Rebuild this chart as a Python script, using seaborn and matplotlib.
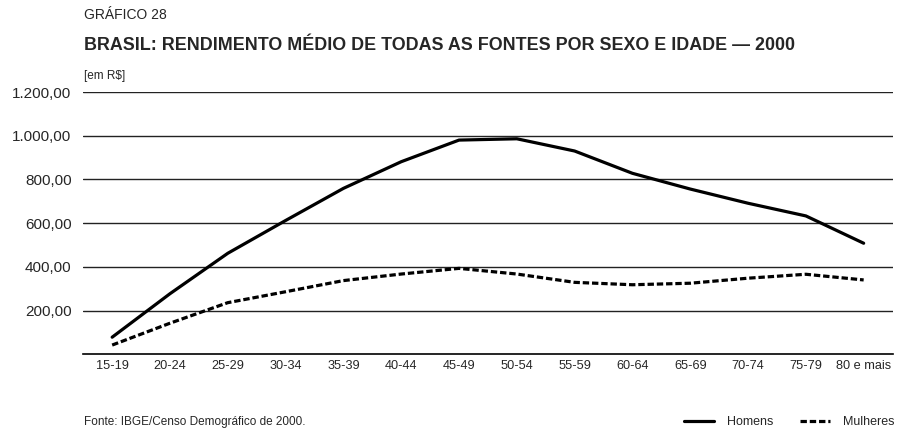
import pandas as pd
import matplotlib.pyplot as plt
import seaborn as sns

# Dados: rendimento médio (R$) por faixa etária e sexo — Censo 2000
faixas = ["15-19", "20-24", "25-29", "30-34", "35-39", "40-44", "45-49",
          "50-54", "55-59", "60-64", "65-69", "70-74", "75-79", "80 e mais"]
homens = [78, 277, 462, 612, 759, 881, 980, 986, 930, 828, 756, 691, 633, 508]
mulheres = [42, 142, 236, 286, 337, 367, 393, 367, 329, 318, 325, 348, 366, 340]
y_ticks = [200, 400, 600, 800, 1000, 1200]

sns.set_style("white")
plt.rcParams["font.family"] = ["Liberation Sans Narrow", "Liberation Sans", "DejaVu Sans"]

df = pd.DataFrame({
    "faixa": faixas * 2,
    "valor": homens + mulheres,
    "sexo": ["Homens"] * len(faixas) + ["Mulheres"] * len(faixas),
})

fig = plt.figure(figsize=(9.08, 4.32), dpi=100)
ax = fig.add_axes([0.0917, 0.180, 0.8913, 0.607])

sns.lineplot(data=df, x="faixa", y="valor", hue="sexo", style="sexo",
             palette={"Homens": "black", "Mulheres": "black"},
             dashes={"Homens": "", "Mulheres": (2.0, 0.9)},
             linewidth=2.3, sort=False, legend=False, ax=ax)

# Eixo Y: grade horizontal, rótulos em formato brasileiro
ax.set_ylim(0, 1200)
ax.set_yticks(y_ticks)
ax.set_yticklabels([f"{v:,.2f}".replace(",", "X").replace(".", ",").replace("X", ".")
                    for v in y_ticks], family="Liberation Sans", fontsize=11)
ax.yaxis.grid(True, color="#222222", linewidth=1.0)
ax.tick_params(axis="y", length=0, pad=8.4)

# Eixo X: traços nos limites das categorias, rótulos centrados
n = len(faixas)
ax.set_xlim(-0.5, n - 0.5)
ax.set_xticks([i - 0.5 for i in range(n + 1)])
ax.set_xticklabels([])
ax.set_xticks(range(n), minor=True)
ax.set_xticklabels(faixas, minor=True, fontsize=9.2)
ax.tick_params(axis="x", which="major", direction="in", length=7.2, width=1.2, color="black")
ax.tick_params(axis="x", which="minor", length=0, pad=4.5)
ax.set_xlabel("")
ax.set_ylabel("")

for s in ["left", "right", "top"]:
    ax.spines[s].set_visible(False)
ax.spines["bottom"].set_color("black")
ax.spines["bottom"].set_linewidth(1.2)

# Títulos e notas
fig.text(0.0925, 0.965, "GRÁFICO 28", fontsize=10, va="center", ha="left")
fig.text(0.0925, 0.894, "BRASIL: RENDIMENTO MÉDIO DE TODAS AS FONTES POR SEXO E IDADE — 2000",
         fontsize=12.9, fontweight="bold", va="center", ha="left")
fig.text(0.0925, 0.824, "[em R$]", fontsize=8.5, va="center", ha="left")
fig.text(0.0925, 0.023, "Fonte: IBGE/Censo Demográfico de 2000.", fontsize=8.5,
         va="center", ha="left")

# Legenda
fig.legend(ax.lines[:2], ["Homens", "Mulheres"], loc="center right",
           bbox_to_anchor=(0.992, 0.023), ncol=2, frameon=False, fontsize=9,
           handlelength=2.4, handletextpad=1.0, columnspacing=2.2, borderpad=0)

plt.savefig("out.png", dpi=100)
